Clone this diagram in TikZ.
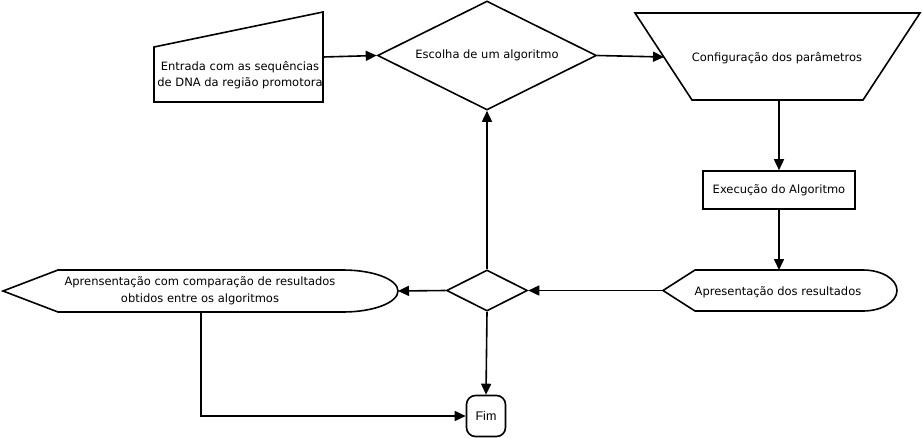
\documentclass[tikz,border=0pt]{standalone}
\usepackage{fontspec}
\setmainfont{DejaVu Sans}
\newfontfamily\fimfont{Liberation Sans}
\usetikzlibrary{shapes.geometric, arrows.meta}

\begin{document}
\begin{tikzpicture}[x=1pt, y=-1pt, line width=1.6pt,
    txt/.style={font=\fontsize{11.5}{16.5}\selectfont, inner sep=0pt, align=center},
    decision/.style={diamond, draw, inner sep=0pt, aspect=2},
    proc/.style={rectangle, draw, inner sep=0pt},
    seta/.style={-{Triangle[length=11pt, width=10pt]}}]
    \useasboundingbox (0,0) rectangle (922,437);

    \draw (154,47) -- (323,12) -- (323,102) -- (154,102) -- cycle;
    \node[txt] (entrada) at (240,75) {Entrada com as sequências\\de DNA da região promotora};
    \coordinate (entrada out) at (323,57);

    \node[decision, txt, minimum width=219pt, minimum height=109pt] (escolha) at (487,55.5) {Escolha de um algoritmo};

    \draw (635,13) -- (920,13) -- (863,100) -- (692,100) -- cycle;
    \node[txt] (config) at (777,58) {Configuração dos parâmetros};
    \coordinate (config in) at (664,57);
    \coordinate (config out) at (779,100);

    \node[proc, txt, minimum width=152pt, minimum height=38pt] (exec) at (779,190) {Execução do Algoritmo};

    \draw (663,290.5) -- (695,270) -- (863,270) arc[start angle=90, end angle=-90, x radius=34pt, y radius=20.5pt] -- (695,311) -- cycle;
    \node[txt] (result) at (778,292) {Apresentação dos resultados};
    \coordinate (result top) at (779,270);
    \coordinate (result in) at (663,290.5);

    \node[decision, minimum width=81pt, minimum height=41pt] (juncao) at (487,290.5) {};

    \draw (3,291) -- (58,270) -- (343,270) arc[start angle=90, end angle=-90, x radius=55pt, y radius=21pt] -- (58,312) -- cycle;
    \node[txt] (compar) at (200,290.5) {Aprensentação com comparação de resultados\\obtidos entre os algoritmos};
    \coordinate (compar out) at (398,291);
    \coordinate (compar bottom) at (201,312);

    \node[draw, rounded corners=9pt, minimum width=39pt, minimum height=41pt, inner sep=0pt, font=\fimfont\fontsize{12.5}{14}\selectfont] (fim) at (486,416) {Fim};

    \draw[seta] (entrada out) -- (escolha.west);
    \draw[seta] (escolha.east) -- (config in);
    \draw[seta] (config out) -- (exec.north);
    \draw[seta] (exec.south) -- (result top);
    \draw[seta] (result in) -- (juncao.east);
    \draw[seta] (juncao.west) -- (compar out);
    \draw[seta] (juncao.north) -- (escolha.south);
    \draw[seta] (juncao.south) -- (fim.north);
    \draw[seta] (compar bottom) |- (fim.west);
\end{tikzpicture}
\end{document}
